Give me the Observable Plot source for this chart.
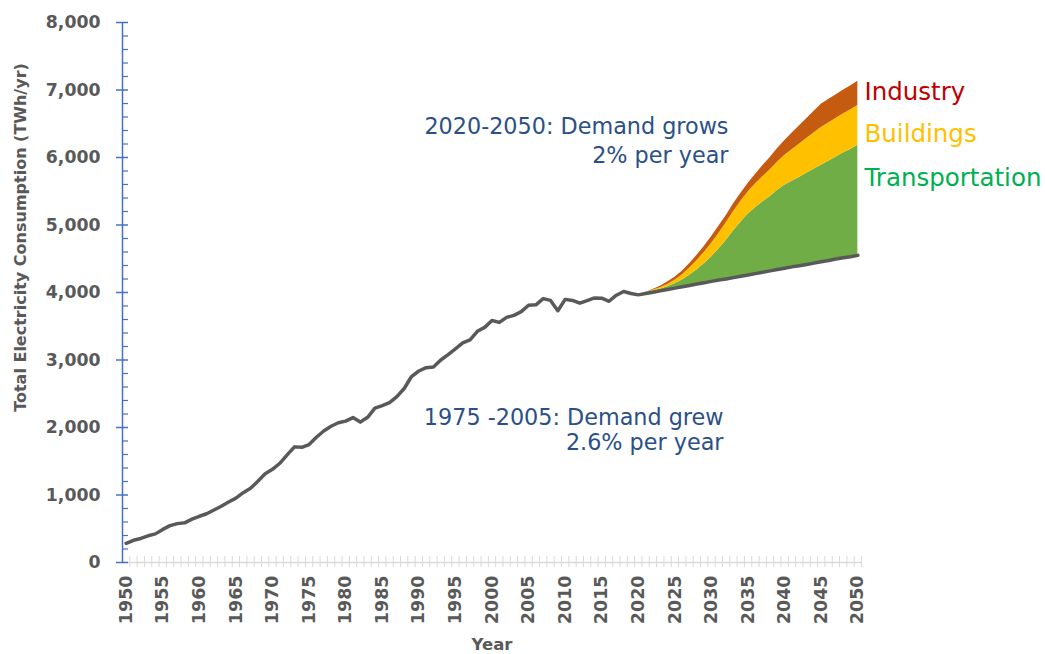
<!DOCTYPE html>
<html>
<head>
<meta charset="utf-8">
<script src="https://cdn.jsdelivr.net/npm/d3@7"></script>
<script src="https://cdn.jsdelivr.net/npm/@observablehq/plot@0.6"></script>
<style>
  html, body { margin: 0; padding: 0; background: #fff; }
  #chart { width: 1045px; height: 654px; }
</style>
</head>
<body>
<div id="chart"></div>
<script>
// ---------- DATA ----------
const histYears = d3.range(1950, 2021);
const histValues = [
  285, 329, 356, 396, 424, 490, 546, 576, 588, 642,
  685, 722, 778, 833, 896, 954, 1035, 1099, 1203, 1314,
  1380, 1470, 1595, 1713, 1706, 1747, 1855, 1948, 2018, 2071,
  2094, 2147, 2080, 2151, 2286, 2324, 2369, 2457, 2578, 2755,
  2837, 2886, 2897, 3000, 3080, 3164, 3253, 3298, 3425, 3483,
  3585, 3557, 3632, 3662, 3716, 3811, 3817, 3910, 3883, 3730,
  3898, 3883, 3842, 3881, 3920, 3915, 3870, 3960, 4015, 3985,
  3965
];
const projYears = d3.range(2020, 2051);
const baseline = [
  3965, 3985, 4005, 4025, 4045, 4065, 4085, 4105, 4125, 4145,
  4165, 4185, 4200, 4220, 4240, 4260, 4280, 4300, 4320, 4340,
  4360, 4380, 4395, 4415, 4435, 4455, 4475, 4495, 4515, 4530,
  4550
];
const transportation = [
  0, 5, 15, 25, 40, 65, 100, 150, 210, 280,
  360, 460, 570, 690, 800, 900, 975, 1040, 1100, 1170,
  1230, 1270, 1310, 1350, 1390, 1430, 1470, 1510, 1550, 1590,
  1630
];
const buildings = [
  0, 5, 12, 22, 35, 50, 75, 105, 135, 168,
  200, 230, 258, 285, 308, 330, 352, 374, 396, 418,
  440, 465, 490, 515, 538, 560, 566, 572, 578, 584,
  590
];
const industry = [
  0, 5, 12, 22, 35, 45, 55, 65, 78, 90,
  100, 105, 110, 115, 120, 125, 143, 162, 181, 200,
  220, 245, 270, 295, 320, 345, 348, 350, 352, 355,
  360
];
const yTicks = [0, 1000, 2000, 3000, 4000, 5000, 6000, 7000, 8000];
const yMinorTicks = d3.range(0, 8001, 200).filter(v => v % 1000 !== 0);
const xLabelYears = [1950,1955,1960,1965,1970,1975,1980,1985,1990,1995,2000,2005,2010,2015,2020,2025,2030,2035,2040,2045,2050];
const sectorNames = ["Transportation", "Buildings", "Industry"];

// ---------- BUILD TABLES ----------
const lineData = histYears.map((y, i) => ({year: y, value: histValues[i]}))
  .concat(projYears.slice(1).map((y, i) => ({year: y, value: baseline[i + 1]})));

const proj = projYears.map((y, i) => {
  const b0 = baseline[i];
  const t1 = b0 + transportation[i];
  const b1 = t1 + buildings[i];
  const i1 = b1 + industry[i];
  return {year: y, b0, t1, b1, i1};
});

const FONT = "DejaVu Sans, Verdana, sans-serif";
const GRAY = "#595959";
const BLUE = "#4472C4";
const NAVY = "#2B5087";
const X0 = 1949.5, X1 = 2050.5;
const pxX = 101 / 739;   // years per pixel
const pxY = 8000 / 540;  // units per pixel

const ann = {frameAnchor: "top-left", textAnchor: "end", lineAnchor: "middle", fontSize: 22.3, fill: NAVY};
const sec = {frameAnchor: "top-right", textAnchor: "start", lineAnchor: "middle", fontSize: 24.5, dx: 3};

const chart = Plot.plot({
  width: 1045,
  height: 654,
  marginLeft: 122,
  marginRight: 184,
  marginTop: 22,
  marginBottom: 92,
  style: {fontFamily: FONT, background: "#fff"},
  x: {domain: [X0, X1], axis: null},
  y: {domain: [0, 8000], axis: null},
  marks: [
    // x axis line and ticks
    Plot.ruleY([0], {x1: X0, x2: X1, stroke: "#D9D9D9", strokeWidth: 1.5}),
    Plot.ruleX(d3.range(1950.5, 2051, 1), {y1: 6 * pxY, y2: -5 * pxY, stroke: "#D9D9D9", strokeWidth: 1}),
    // y axis line and ticks
    Plot.ruleX([X0], {y1: 0, y2: 8000, stroke: BLUE, strokeWidth: 1.5}),
    Plot.ruleY(yTicks, {x1: X0 - 6 * pxX, x2: X0 + 6 * pxX, stroke: BLUE, strokeWidth: 1.5}),
    Plot.ruleY(yMinorTicks, {x1: X0, x2: X0 + 6 * pxX, stroke: BLUE, strokeWidth: 1.2}),
    // y tick labels
    Plot.text(yTicks, {x: X0, y: d => d, text: d => d3.format(",")(d), dx: -22, textAnchor: "end",
      fontSize: 17.3, fontWeight: "bold", fill: GRAY}),
    // x tick labels
    Plot.text(xLabelYears, {x: d => d, y: 0, text: d => String(d), rotate: -90, textAnchor: "end",
      dy: 13, fontSize: 17.5, fontWeight: "bold", fill: GRAY}),
    // stacked areas
    Plot.areaY(proj, {x: "year", y1: "b0", y2: "t1", fill: "#70AD47"}),
    Plot.areaY(proj, {x: "year", y1: "t1", y2: "b1", fill: "#FFC000"}),
    Plot.areaY(proj, {x: "year", y1: "b1", y2: "i1", fill: "#C55A11"}),
    // total line
    Plot.line(lineData, {x: "year", y: "value", stroke: GRAY, strokeWidth: 3.5, strokeLinejoin: "round", strokeLinecap: "round"}),
    // axis titles
    Plot.text(["Total Electricity Consumption (TWh/yr)"], {frameAnchor: "left", textAnchor: "middle", lineAnchor: "middle",
      rotate: -90, dx: -102, dy: -55, fontSize: 16, fontWeight: "bold", fill: GRAY}),
    Plot.text(["Year"], {frameAnchor: "bottom", lineAnchor: "middle", dy: 82, fontSize: 16.5, fontWeight: "bold", fill: GRAY}),
    // annotations
    Plot.text(["2020-2050: Demand grows"], {...ann, dx: 606, dy: 104}),
    Plot.text(["2% per year"], {...ann, dx: 606, dy: 133}),
    Plot.text(["1975 -2005: Demand grew"], {...ann, dx: 601, dy: 395}),
    Plot.text(["2.6% per year"], {...ann, dx: 601, dy: 420}),
    // sector labels
    Plot.text([sectorNames[2]], {...sec, dy: 70, fill: "#C00000"}),
    Plot.text([sectorNames[1]], {...sec, dy: 112, fill: "#FFC000"}),
    Plot.text([sectorNames[0]], {...sec, dy: 156, fill: "#00B050"})
  ]
});
document.getElementById("chart").appendChild(chart);
</script>
</body>
</html>
